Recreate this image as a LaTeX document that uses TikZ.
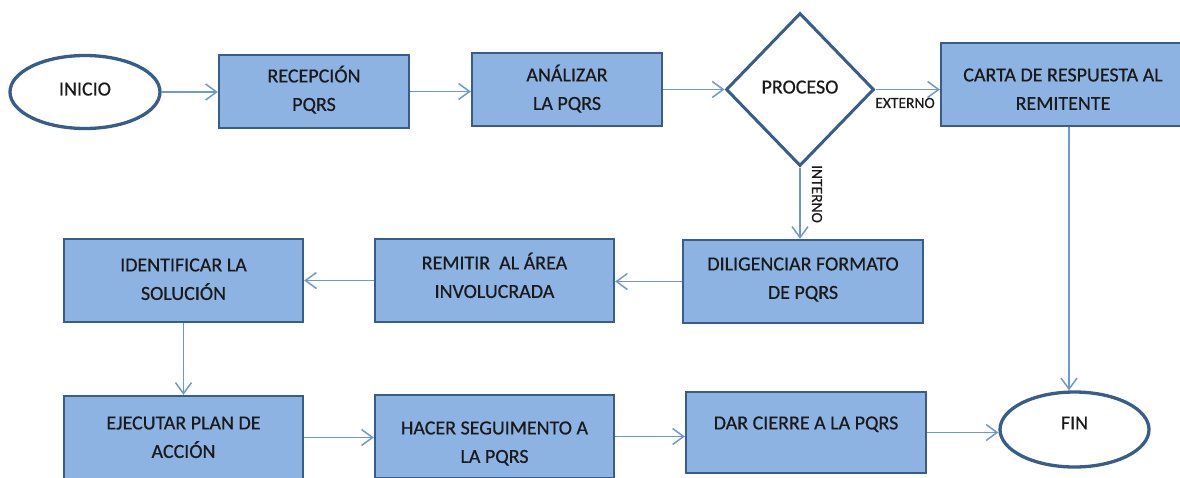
\documentclass[tikz,border=0pt]{standalone}
\usepackage{fontspec}
\setmainfont{Carlito}[FakeBold=0.5]
\usetikzlibrary{shapes.geometric,arrows.meta}
\definecolor{boxfill}{HTML}{8DB3E2}
\definecolor{boxline}{HTML}{385D8A}
\definecolor{connline}{HTML}{6E98CF}
\definecolor{txtcol}{HTML}{1A1A1A}
\newcommand{\bxt}[4]{\parbox[c][#2][t]{#1}{\centering\vspace*{#3}#4}}
\tikzset{
  stepbox/.style={draw=boxline, line width=2.3pt, fill=boxfill, rectangle, inner sep=0pt, text=txtcol,
    font=\fontsize{20}{28.5}\selectfont},
  termin/.style={draw=boxline, line width=3.3pt, fill=white, ellipse, inner sep=0pt, text=txtcol,
    font=\fontsize{20}{24}\selectfont},
  decis/.style={draw=boxline, line width=3pt, fill=white, diamond, inner sep=0pt, text=txtcol,
    font=\fontsize{20}{24}\selectfont},
  conn/.style={draw=connline, line width=1.5pt, -{Straight Barb[length=11pt,width=16pt]}},
  small/.style={text=txtcol, inner sep=0pt, font=\fontsize{15.5}{18}\selectfont}
}
\begin{document}
\begin{tikzpicture}[x=1pt,y=-1pt]
\useasboundingbox (0,0) rectangle (1180,477);
\begin{scope}
\clip (0,0) rectangle (1180,477);
% top row
\node[termin, minimum width=150pt, minimum height=73pt, text depth=6pt] (inicio) at (85,92) {INICIO};
\node[stepbox] (recep) at (314,91.5) {\bxt{190pt}{73pt}{7.45pt}{\strut RECEPCIÓN\\\strut PQRS}};
\node[stepbox] (anal) at (567,89.5) {\bxt{190pt}{73pt}{8.45pt}{\strut ANÁLIZAR\\\strut LA PQRS}};
\node[decis, minimum width=148pt, minimum height=153pt, text depth=5pt] (proc) at (800,89.5) {PROCESO};
\node[stepbox] (carta) at (1069,84.5) {\bxt{256pt}{83pt}{18.45pt}{\strut CARTA DE RESPUESTA AL\rule{12pt}{0pt}\\\strut REMITENTE\rule{12pt}{0pt}}};
% middle row
\node[stepbox] (dilig) at (803,281.5) {\bxt{240pt}{83pt}{10.45pt}{\strut DILIGENCIAR FORMATO\\\strut DE PQRS}};
\node[stepbox] (remit) at (494.5,280.5) {\bxt{239pt}{83pt}{10.45pt}{\strut REMITIR~~AL ÁREA\\\strut INVOLUCRADA}};
\node[stepbox] (ident) at (183.5,280.5) {\bxt{239pt}{83pt}{12.45pt}{\strut IDENTIFICAR LA\\\strut SOLUCIÓN}};
% bottom row
\node[stepbox] (ejec) at (183.5,437.5) {\bxt{239pt}{83pt}{13.45pt}{\strut EJECUTAR PLAN DE\\\strut ACCIÓN}};
\node[stepbox] (hacer) at (494.5,436.5) {\bxt{239pt}{83pt}{19.45pt}{\strut HACER SEGUIMENTO A\\\strut LA PQRS}};
\node[stepbox] (dar) at (806,432.5) {\bxt{240pt}{81pt}{17.45pt}{\strut DAR CIERRE A LA PQRS}};
\node[termin, minimum width=149pt, minimum height=75pt, text depth=13pt] (fin) at (1074.5,429.5) {FIN};
% connectors
\draw[conn] (inicio.east) -- (inicio.east -| recep.west);
\draw[conn] (recep.east) -- (recep.east -| anal.west);
\draw[conn] (anal.east) -- (anal.east -| proc.west);
\draw[conn] (proc.east) -- (proc.east -| carta.west);
\draw[conn] (proc.south) -- (proc.south |- dilig.north);
\draw[conn] (dilig.west) -- (dilig.west -| remit.east);
\draw[conn] (remit.west) -- (remit.west -| ident.east);
\draw[conn] (ident.south) -- (ident.south |- ejec.north);
\draw[conn] (ejec.east) -- (ejec.east -| hacer.west);
\draw[conn] (hacer.east) -- (hacer.east -| dar.west);
\draw[conn] (dar.east) -- (dar.east -| fin.west);
\draw[conn] (carta.south) -- (carta.south |- fin.north);
% branch labels
\node[small] (lblext) at (905,103) {EXTERNO};
\node[small, rotate=-90] (lblint) at (817,194) {INTERNO};
\end{scope}
\end{tikzpicture}
\end{document}
